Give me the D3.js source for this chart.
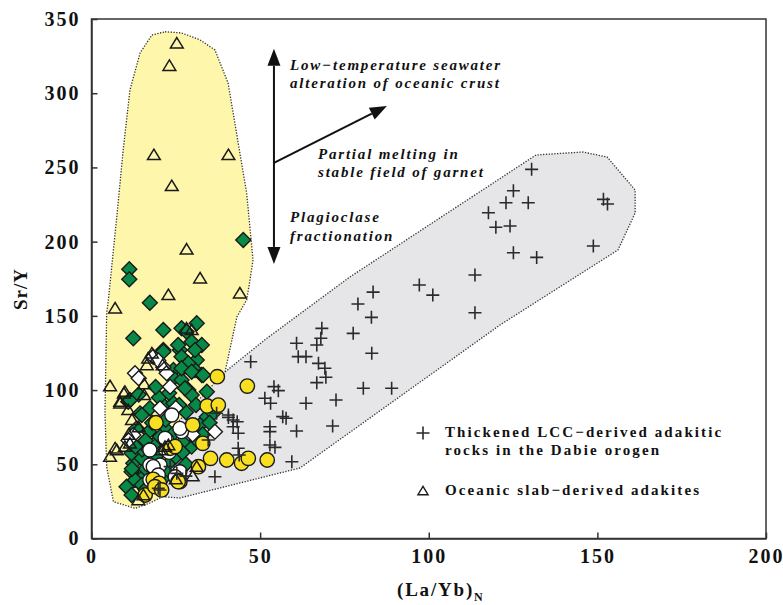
<!DOCTYPE html>
<html>
<head>
<meta charset="utf-8">
<script src="https://cdn.jsdelivr.net/npm/d3@7"></script>
<style>
  body { margin: 0; background: #fff; }
  text { font-family: "Liberation Serif", "Times New Roman", serif; font-weight: bold; fill: #111; }
  .axis path, .axis line { stroke: #333; stroke-width: 1.5; }
  .axis text { font-size: 20px; letter-spacing: 2px; }
</style>
</head>
<body>
<svg id="chart"></svg>
<script>
// (La/Yb)N vs Sr/Y for adakitic rocks

// axis ticks
var xTicks = [0, 50, 100, 150, 200];
var yTicks = [0, 50, 100, 150, 200, 250, 300, 350];

// field outlines [La/Yb, Sr/Y]
var slabField = [[21.8,341.4],[26.7,340.6],[32.2,335.9],[36.6,329.1],[40.5,306.9],[46.0,232.8],[47.9,187.6],[47.0,174.2],
  [46.0,160.7],[43.1,149.2],[39.6,112.2],[20.3,27.3],[17.3,23.9],[12.9,20.3],[6.5,24.8],[4.5,48.2],[4.0,84.6],
  [4.5,151.9],[5.0,160.7],[7.5,216.8],[9.4,261.7],[11.4,302.2],[14.4,327.1],[17.9,339.2]];
var dabieField = [[21.8,28.0],[24.8,76.5],[39.6,112.2],[51.3,133.7],[76.6,176.2],[131.8,258.4],[145.7,260.4],
  [152.9,257.0],[161.2,234.8],[161.2,219.3],[156.1,194.4],[121.1,143.8],[61.8,47.5],[26.2,27.3]];

// Thickened LCC-derived adakitic rocks (Dabie)
var dabieX = [130.5,125.1,122.9,129.5,117.7,119.9,124.1,125.1,132.0,151.8,153.0,148.8,113.7,113.7,97.2,101.2,89.0,
  68.3,68.0,77.6,60.8,66.8,61.3,63.6,83.1,67.3,69.2,69.5,66.8,47.2,80.6,54.1,55.4,51.4,53.1,63.6,72.5,56.7,57.7,
  52.9,52.9,60.8,71.5,52.9,54.4,59.4,43.5,43.8,40.6,42.0,43.2,42.0,43.5,36.6,37.1,40.6,34.6,20.3,79.0,83.5,83.0,
  25.3,19.8,23.3,28.0];
var dabieY = [248.7,234.3,226.2,226.2,219.5,209.7,210.5,192.5,189.4,228.5,225.4,197.1,177.5,152.1,170.8,164.0,101.2,
  141.6,134.9,138.2,131.5,130.4,122.5,122.5,124.8,118.0,114.7,108.6,105.0,119.1,101.2,102.3,99.6,94.5,91.1,91.1,93.3,82.1,81.0,
  75.3,72.0,72.4,75.8,63.0,61.4,51.7,60.8,56.3,81.6,79.8,78.7,75.3,70.9,41.6,84.4,83.2,66.4,32.7,158.0,166.0,149.0,
  43.9,33.8,48.4,42.0];

// Oceanic slab-derived adakites
var slabX = [25.3,23.1,18.5,40.6,23.8,28.2,32.2,44.0,7.0,22.8,5.5,9.6,15.6,15.6,8.5,10.9,5.5,7.0,9.9,16.4,16.8,17.9,
  21.1,28.2,29.7,31.2,20.8,22.8,9.9,7.5,11.4,8.5,15.4,13.9,21.8,12.0,14.0,11.0,25.0,30.0];
var slabY = [333.6,318.5,258.4,258.4,237.5,194.8,175.3,165.2,155.1,164.1,102.7,97.8,104.1,96.7,92.2,86.6,55.1,60.8,61.9,116.9,121.4,124.8,
  116.9,141.6,140.5,48.4,59.6,63.0,98.9,59.6,64.1,91.1,29.3,25.9,61.9,80.0,75.0,70.0,40.0,42.0];

// green diamonds
var greenX = [11.2,11.2,45.0,17.3,12.4,21.3,31.2,26.7,28.2,21.3,26.2,29.7,32.7,31.2,26.7,27.7,24.3,30.7,32.7,24.3,28.7,29.7,
  34.2,26.7,10.9,21.3,14.4,10.4,11.9,11.9,13.4,12.4,11.9,15.4,29.7,31.2,32.2,34.2,36.1,24.3,21.8,20.3,25.7,30.7,28.7,26.7,
  29.7,27.7,33.1,21.3,11.4,12.9,14.9,18.3,17.3,14.9,13.4,23.3,14.9,16.0,19.0,22.0,25.0,27.0,24.0,17.0,15.0,19.0,28.0,31.0,27.0,22.0,
  13.0,16.0,18.0,20.0,23.0,12.0,16.0,21.0,24.0,26.0,19.0,14.0,33.0,35.0,28.0];
var greenY = [181.4,174.6,201.1,158.9,134.9,140.5,145.0,141.6,139.3,127.0,127.0,132.6,130.4,120.3,122.5,115.8,113.5,113.5,110.2,107.9,100.1,96.7,
  98.9,106.8,92.2,89.9,84.3,34.9,29.3,45.0,39.4,50.7,57.4,41.6,61.9,66.4,76.5,82.1,84.3,91.1,74.2,68.6,130.4,127.0,118.0,114.7,
  112.4,101.2,110.2,125.9,93.3,39.4,54.0,63.0,87.7,83.2,74.2,51.7,36.0,47.0,55.0,45.0,55.0,65.0,70.0,72.0,60.0,38.0,85.0,90.0,58.0,80.0,
  62.0,66.0,78.0,95.0,98.0,47.0,33.0,40.0,62.0,90.0,102.0,97.0,70.0,78.0,50.0];

// white diamonds
var whiteDX = [18.3,12.9,21.3,22.3,23.3,36.6,20.3,12.4,19.8,14.0,17.0,25.0,11.0,30.0];
var whiteDY = [122.5,111.3,115.3,111.3,102.3,72.0,87.7,69.7,120.0,108.0,59.6,88.0,66.0,70.0];

// white circles
var whiteCX = [23.8,26.7,22.3,17.3,17.3,20.3,26.2,24.8,21.8,18.3,19.8,17.3,26.2,23.0];
var whiteCY = [83.2,72.0,66.4,59.6,49.5,49.5,45.0,41.6,67.5,48.4,42.8,39.4,74.2,58.0];

// yellow circles
var yellowX = [37.3,46.2,34.3,37.6,19.1,30.0,33.0,23.3,31.7,35.3,40.1,44.5,46.5,52.1,18.3,20.1,26.2,15.9,18.8,20.8,24.8,25.7];
var yellowY = [109.0,102.7,89.3,89.9,78.0,76.5,64.1,60.8,48.4,54.0,52.9,50.7,54.0,52.9,39.9,37.2,38.3,29.3,34.9,32.7,61.9,38.3];

// trend arrows [start, end] in data units
var arrowUp = [[54.1,253],[54.1,330]];
var arrowDown = [[54.1,253],[54.1,185]];
var arrowGarnet = [[54.1,253],[87.6,291.4]];

var margin = {top: 19, right: 17, bottom: 66.5, left: 91.5},
    width = 783 - margin.left - margin.right,
    height = 605 - margin.top - margin.bottom;

var x = d3.scaleLinear().domain([0, 200]).range([0, width]);
var y = d3.scaleLinear().domain([0, 350]).range([height, 0]);

var svg = d3.select("#chart")
    .attr("width", 783)
    .attr("height", 605);

var g = svg.append("g")
    .attr("transform", "translate(" + margin.left + "," + margin.top + ")");

function pairs(xs, ys) { return xs.map(function(d, i) { return [d, ys[i]]; }); }

// fields
var line = d3.line().x(function(d) { return x(d[0]); }).y(function(d) { return y(d[1]); }).curve(d3.curveLinearClosed);

g.append("path").datum(slabField)
    .attr("d", line)
    .attr("fill", "#fdf6ab")
    .attr("stroke", "#333")
    .attr("stroke-width", 1.3)
    .attr("stroke-dasharray", "1.3,1.5");

g.append("path").datum(dabieField)
    .attr("d", line)
    .attr("fill", "#e6e6e8")
    .attr("stroke", "#333")
    .attr("stroke-width", 1.3)
    .attr("stroke-dasharray", "1.3,1.5");

// frame
g.append("rect")
    .attr("width", width).attr("height", height)
    .attr("fill", "none").attr("stroke", "#333").attr("stroke-width", 1.5);

// axes, ticks inside
g.append("g")
    .attr("class", "axis")
    .attr("transform", "translate(0," + height + ")")
    .call(d3.axisBottom(x).tickValues(xTicks).tickSizeInner(-6).tickSizeOuter(0).tickPadding(10));

g.append("g")
    .attr("class", "axis")
    .call(d3.axisLeft(y).tickValues(yTicks).tickSizeInner(-6).tickSizeOuter(0).tickPadding(11));

g.selectAll(".axis .tick text").attr("fill", "#111");

// markers
var diamond = function(s) { return "M0," + (-s) + "L" + s + ",0L0," + s + "L" + (-s) + ",0Z"; };

g.append("g").selectAll("path")
    .data(pairs(greenX, greenY))
  .enter().append("path")
    .attr("transform", function(d) { return "translate(" + x(d[0]) + "," + y(d[1]) + ")"; })
    .attr("d", diamond(7.5))
    .attr("fill", "#078a47")
    .attr("stroke", "#1a1a1a")
    .attr("stroke-width", 1.4);

g.append("g").selectAll("path")
    .data(pairs(whiteDX, whiteDY))
  .enter().append("path")
    .attr("transform", function(d) { return "translate(" + x(d[0]) + "," + y(d[1]) + ")"; })
    .attr("d", diamond(7.5))
    .attr("fill", "#fff")
    .attr("stroke", "#1a1a1a")
    .attr("stroke-width", 1.4);

g.append("g").selectAll("circle")
    .data(pairs(whiteCX, whiteCY))
  .enter().append("circle")
    .attr("cx", function(d) { return x(d[0]); })
    .attr("cy", function(d) { return y(d[1]); })
    .attr("r", 7)
    .attr("fill", "#fff")
    .attr("stroke", "#1a1a1a")
    .attr("stroke-width", 1.4);

g.append("g").selectAll("circle")
    .data(pairs(yellowX, yellowY))
  .enter().append("circle")
    .attr("cx", function(d) { return x(d[0]); })
    .attr("cy", function(d) { return y(d[1]); })
    .attr("r", 7.2)
    .attr("fill", "#f8e021")
    .attr("stroke", "#1a1a1a")
    .attr("stroke-width", 1.4);

var triangle = function(s) { return "M0," + (-s) + "L" + (s * 1.1) + "," + (s * 0.8) + "L" + (-s * 1.1) + "," + (s * 0.8) + "Z"; };

g.append("g").selectAll("path")
    .data(pairs(slabX, slabY))
  .enter().append("path")
    .attr("transform", function(d) { return "translate(" + x(d[0]) + "," + y(d[1]) + ")"; })
    .attr("d", triangle(5.8))
    .attr("fill", "none")
    .attr("stroke", "#1a1a1a")
    .attr("stroke-width", 1.5);

var plus = function(s) { return "M" + (-s) + ",0H" + s + "M0," + (-s) + "V" + s; };

g.append("g").selectAll("path")
    .data(pairs(dabieX, dabieY))
  .enter().append("path")
    .attr("transform", function(d) { return "translate(" + x(d[0]) + "," + y(d[1]) + ")"; })
    .attr("d", plus(6.5))
    .attr("fill", "none")
    .attr("stroke", "#2a2a2a")
    .attr("stroke-width", 1.6);

// arrows
function arrow(a) {
  var x0 = x(a[0][0]), y0 = y(a[0][1]), x1 = x(a[1][0]), y1 = y(a[1][1]);
  var ang = Math.atan2(y1 - y0, x1 - x0), len = 17, hw = 6.5;
  var bx = x1 - len * Math.cos(ang), by = y1 - len * Math.sin(ang);
  var px = -Math.sin(ang) * hw, py = Math.cos(ang) * hw;
  g.append("line")
    .attr("x1", x0).attr("y1", y0).attr("x2", bx).attr("y2", by)
    .attr("stroke", "#111").attr("stroke-width", 2);
  g.append("path")
    .attr("d", "M" + x1 + "," + y1 + "L" + (bx + px) + "," + (by + py) + "L" + (bx - px) + "," + (by - py) + "Z")
    .attr("fill", "#111");
}
arrow(arrowUp);
arrow(arrowDown);
arrow(arrowGarnet);

// annotations
var notes = [
  {t: "Low\u2212temperature seawater", x: 290, y: 70},
  {t: "alteration of oceanic crust", x: 290, y: 88},
  {t: "Partial melting in", x: 318, y: 159},
  {t: "stable field of garnet", x: 318, y: 177},
  {t: "Plagioclase", x: 290, y: 222},
  {t: "fractionation", x: 290, y: 241}
];
svg.append("g").selectAll("text")
    .data(notes)
  .enter().append("text")
    .attr("x", function(d) { return d.x; })
    .attr("y", function(d) { return d.y; })
    .style("font-style", "italic")
    .style("font-size", "15px")
    .style("letter-spacing", "1.8px")
    .text(function(d) { return d.t; });

// legend
var legend = svg.append("g");
legend.append("path")
    .attr("transform", "translate(423,433)")
    .attr("d", plus(6.5))
    .attr("stroke", "#2a2a2a").attr("stroke-width", 1.6);
legend.append("path")
    .attr("transform", "translate(423,491)")
    .attr("d", triangle(4.6))
    .attr("fill", "none").attr("stroke", "#1a1a1a").attr("stroke-width", 1.4);
var legendText = [
  {t: "Thickened LCC\u2212derived adakitic", y: 437},
  {t: "rocks in the Dabie orogen", y: 455},
  {t: "Oceanic slab\u2212derived adakites", y: 495}
];
legend.selectAll("text")
    .data(legendText)
  .enter().append("text")
    .attr("x", 445)
    .attr("y", function(d) { return d.y; })
    .style("font-size", "15px")
    .style("letter-spacing", "2.1px")
    .text(function(d) { return d.t; });

// axis titles
var xt = svg.append("text")
    .attr("x", margin.left + width / 2 + 12)
    .attr("y", 596)
    .style("text-anchor", "middle")
    .style("font-size", "19px")
    .style("letter-spacing", "1.8px");
xt.append("tspan").text("(La/Yb)");
xt.append("tspan").attr("dy", 5).style("font-size", "12px").text("N");

svg.append("text")
    .attr("transform", "translate(27,289) rotate(-90)")
    .style("text-anchor", "middle")
    .style("font-size", "19px")
    .style("letter-spacing", "1px")
    .text("Sr/Y");
</script>
</body>
</html>
